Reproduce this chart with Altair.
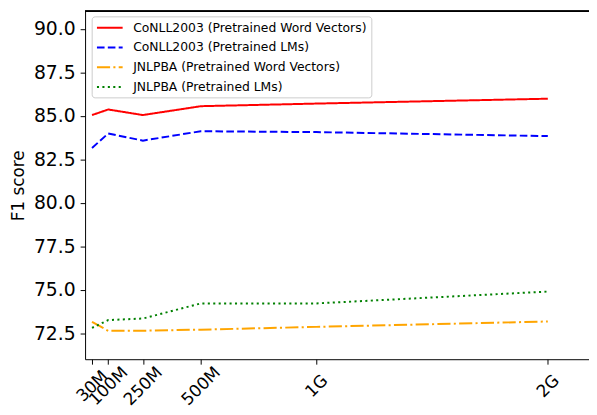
import altair as alt
import pandas as pd

# ---- data ----
sizes = [30, 100, 250, 500, 1000, 2000]
size_labels = ["30M", "100M", "250M", "500M", "1G", "2G"]
series_names = [
    "CoNLL2003 (Pretrained Word Vectors)",
    "CoNLL2003 (Pretrained LMs)",
    "JNLPBA (Pretrained Word Vectors)",
    "JNLPBA (Pretrained LMs)",
]
conll_wv = [85.04, 85.36, 85.04, 85.55, 85.70, 85.98]
conll_lm = [83.15, 83.98, 83.57, 84.11, 84.06, 83.83]
jnlpba_wv = [73.15, 72.63, 72.64, 72.70, 72.86, 73.17]
jnlpba_lm = [72.80, 73.25, 73.34, 74.21, 74.21, 74.89]
y_ticks = [72.5, 75.0, 77.5, 80.0, 82.5, 85.0, 87.5, 90.0]
x_min, x_max = 0, 2178
y_min, y_max = 71, 91

colors = ["#ff0000", "#0000ff", "#ffa500", "#008000"]
dashes = [[1, 0], [7.7, 3.3], [13.3, 3.3, 2.1, 3.3], [2.1, 3.4]]

values = [conll_wv, conll_lm, jnlpba_wv, jnlpba_lm]
rows = []
for name, vals in zip(series_names, values):
    for s, v in zip(sizes, vals):
        rows.append({"series": name, "size": s, "f1": v})
df = pd.DataFrame(rows)

label_expr = " : ".join(
    f"datum.value == {s} ? '{l}'" for s, l in zip(sizes, size_labels)
) + " : ''"

FONT = "DejaVu Sans"
x_scale = alt.Scale(domain=[x_min, x_max], nice=False, zero=False)
y_scale = alt.Scale(domain=[y_min, y_max], nice=False, zero=False)

legend = alt.Legend(
    orient="none", legendX=6.7, legendY=5,
    symbolType="M-0.95,0H3.05", symbolSize=169, symbolStrokeWidth=2,
    labelFont=FONT, labelFontSize=12.5, labelColor="black", labelLimit=400,
    labelOffset=23, padding=4, rowPadding=6,
    strokeColor="#cccccc", fillColor="rgba(255,255,255,0.8)", cornerRadius=3,
)

x_enc = alt.X(
    "size:Q", scale=x_scale,
    axis=alt.Axis(
        values=sizes, labelExpr=label_expr, labelAngle=315,
        labelAlign="center", labelBaseline="middle", labelPadding=22,
        labelFont=FONT, labelFontSize=17, labelColor="black",
        tickSize=5, tickColor="black", domainColor="black", grid=False,
        title=None, labelOverlap=False,
    ),
)
y_enc = alt.Y(
    "f1:Q", scale=y_scale,
    axis=alt.Axis(
        values=y_ticks, format=".1f", labelFont=FONT, labelFontSize=19,
        labelColor="black", labelPadding=5, tickSize=5, tickColor="black",
        domainColor="black", grid=False, title="F1 score", titleFont=FONT,
        titleFontSize=17, titleFontWeight="normal", titleColor="black",
        titlePadding=6,
    ),
)

color_enc = alt.Color(
    "series:N", scale=alt.Scale(domain=series_names, range=colors),
    legend=legend, title=None,
)
dash_enc = alt.StrokeDash(
    "series:N", scale=alt.Scale(domain=series_names, range=dashes),
    legend=legend, title=None,
)

# top frame line drawn through the scales
top_frame = alt.Chart(df).mark_rule(color="black", strokeWidth=1).encode(
    x=alt.datum(x_min, scale=x_scale),
    x2=alt.datum(x_max),
    y=alt.datum(y_max, scale=y_scale),
)

layers = []
for name in series_names:
    layers.append(
        alt.Chart(df)
        .transform_filter(alt.datum.series == name)
        .mark_line(strokeWidth=2)
        .encode(x=x_enc, y=y_enc, color=color_enc, strokeDash=dash_enc)
    )

chart = (
    alt.layer(*layers, top_frame)
    .properties(
        width=510, height=352,
        autosize=alt.AutoSizeParams(type="none"),
        padding={"left": 78, "top": 1, "right": 0, "bottom": 54},
    )
    .configure_view(stroke="transparent")
)

chart.save("out.html", embed_options={"renderer": "svg", "actions": False})
